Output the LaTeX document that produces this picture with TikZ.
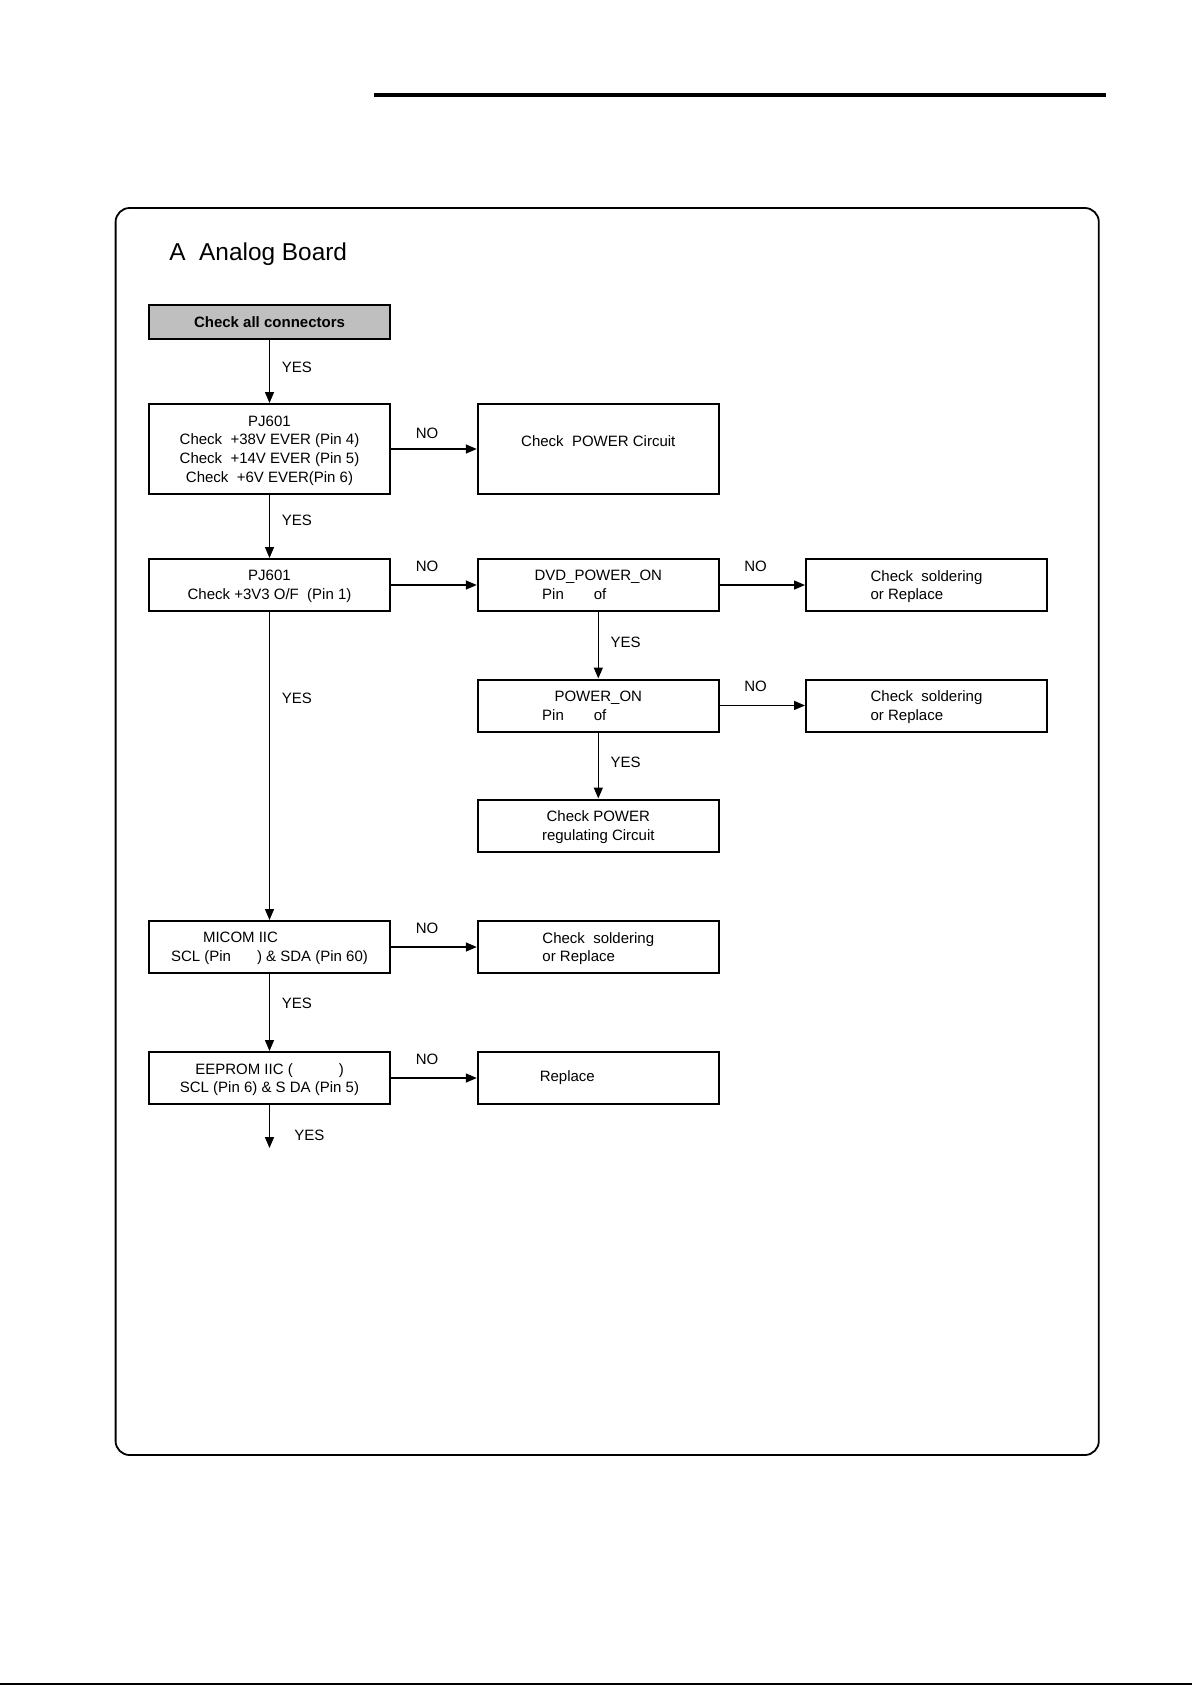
\documentclass[tikz,border=0pt]{standalone}
\usepackage{fontspec}
\setmainfont{Liberation Sans}
\usetikzlibrary{arrows.meta}

\begin{document}
\begin{tikzpicture}[
        x=0.5pt, y=-0.5pt,
        font=\fontsize{7.5pt}{9.35pt}\selectfont,
        box/.style={draw, line width=1pt, inner sep=0pt, minimum width=120.5pt,
                minimum height=26pt, align=center, text depth=-1pt},
        flow/.style={-{Triangle[length=5.5pt,width=4.5pt]}, line width=0.7pt}
    ]
    \useasboundingbox (0,0) rectangle (1192,1685);

    % Page rules and frame
    \draw[line width=2pt] (374,95) -- (1106,95);
    \draw[line width=0.6pt] (0,1684) -- (1192,1684);
    \draw[line width=0.9pt, rounded corners=7pt] (115.6,208) rectangle (1098.8,1455);
    \node[anchor=base west, inner sep=0pt, font=\fontsize{12.2pt}{14pt}\selectfont] (title) at (169,260) {A\ \ Analog Board};

    % Left column
    \node[box, fill=black!25, minimum height=17pt, font=\fontsize{7.5pt}{9.35pt}\selectfont\bfseries] (connectors) at (269.5,322) {Check all connectors};
    \node[box, minimum height=45pt] (pjever) at (269.5,449) {PJ601\\Check\ \ +38V EVER (Pin 4)\\Check\ \ +14V EVER (Pin 5)\\Check\ \ +6V EVER(Pin 6)};
    \node[box] (pjthree) at (269.5,585) {PJ601\\Check +3V3 O/F\ \ (Pin 1)};
    \node[box] (micom) at (269.5,947) {MICOM IIC\hspace*{29pt}\\SCL (Pin\hspace*{13pt}) \& SDA (Pin 60)};
    \node[box] (eeprom) at (269.5,1078) {EEPROM IIC (\hspace*{23pt})\\SCL (Pin 6) \& S DA (Pin 5)};
    \coordinate (eepend) at (269.5,1148);

    % Middle column
    \node[box, minimum height=45pt] (powerckt) at (598.3,449) {};
    \node (powertext) at (598.3,441) {Check\ \ POWER Circuit};
    \node[box] (dvdon) at (598.3,585) {DVD\_POWER\_ON\\Pin\hspace*{15pt}of\hspace*{24pt}};
    \node[box] (poweron) at (598.3,705.5) {POWER\_ON\\Pin\hspace*{15pt}of\hspace*{24pt}};
    \node[box] (regckt) at (598.3,825.5) {Check POWER\\regulating Circuit};
    \node[box, align=left] (solderc) at (598.3,947) {Check\ \ soldering\\or Replace};
    \node[box, text depth=1.6pt] (replace) at (598.3,1078) {Replace\hspace*{31pt}};

    % Right column
    \node[box, align=left] (soldera) at (926.5,585) {Check\ \ soldering\\or Replace};
    \node[box, align=left] (solderb) at (926.5,705.5) {Check\ \ soldering\\or Replace};

    % YES paths
    \draw[flow] (connectors.south) -- node[right=2.5pt, pos=0.43] {YES} (pjever.north);
    \draw[flow] (pjever.south) -- node[right=2.5pt, pos=0.4] {YES} (pjthree.north);
    \draw[flow] (pjthree.south) -- node[right=2.5pt, pos=0.28] {YES} (micom.north);
    \draw[flow] (micom.south) -- node[right=2.5pt, pos=0.38] {YES} (eeprom.north);
    \draw[flow] (eeprom.south) -- node[right=8.75pt, pos=0.7] {YES} (eepend);
    \draw[flow] (dvdon.south) -- node[right=2.5pt, pos=0.46] {YES} (poweron.north);
    \draw[flow] (poweron.south) -- node[right=2.5pt, pos=0.45] {YES} (regckt.north);

    % NO paths
    \draw[flow] (pjever.east) -- node[above=1.5pt, pos=0.42] {NO} (powerckt.west);
    \draw[flow] (pjthree.east) -- node[above=3.2pt, pos=0.42] {NO} (dvdon.west);
    \draw[flow] (dvdon.east) -- node[above=3.2pt, pos=0.42] {NO} (soldera.west);
    \draw[flow] (poweron.east) -- node[above=3.2pt, pos=0.42] {NO} (solderb.west);
    \draw[flow] (micom.east) -- node[above=3.2pt, pos=0.42] {NO} (solderc.west);
    \draw[flow] (eeprom.east) -- node[above=3.2pt, pos=0.42] {NO} (replace.west);
\end{tikzpicture}
\end{document}
